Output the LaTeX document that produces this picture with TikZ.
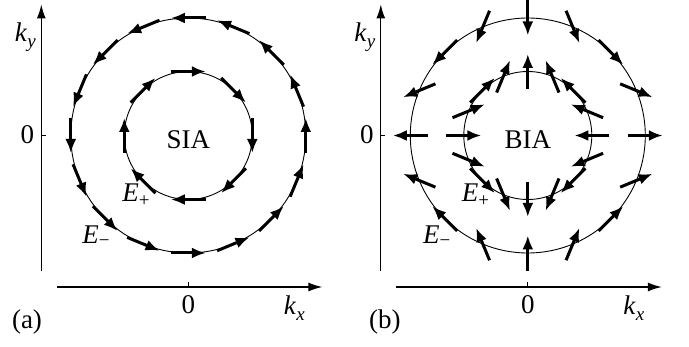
\documentclass[tikz,border=0pt]{standalone}
\usepackage{fontspec}
\setmainfont{Liberation Serif}
\usetikzlibrary{arrows.meta}
\newcommand{\withSub}[3][0.2em]{\textit{#2}\raisebox{-#1}{\fontsize{19}{20}\selectfont #3}}
\tikzset{
  spinArrow/.style={-{Latex[length=14pt,width=11pt]}, line width=3pt},
  axisArrow/.style={-{Latex[length=14pt,width=9pt]}, line width=1.3pt},
  tick/.style={line width=1.1pt},
  bandCircle/.style={line width=0.9pt},
  etiquette/.style={inner sep=0pt, font=\fontsize{27}{30}\selectfont}
}
\begin{document}
\begin{tikzpicture}[x=1pt, y=1pt]
  \useasboundingbox (0,0) rectangle (689,346);

  % --- Panneau (a) : SIA
  \begin{scope}[shift={(188.3,210.5)}]
    \draw[axisArrow] (-147,-135.5) -- (-147,131);
    \draw[axisArrow] (-131.5,-151.5) -- (134,-151.5);
    \draw[tick] (-147,0) -- (-142.5,0);
    \draw[tick] (0,-151.5) -- (0,-146.5);
    \draw[bandCircle] (0,0) circle (64);
    \draw[bandCircle] (0,0) circle (117.5);

    \foreach \t in {0,45,...,315}
      \draw[spinArrow] (\t:64) ++(\t+90:17.5) -- ++(\t-90:35);
    \foreach \t in {0,22.5,...,337.5}
      \draw[spinArrow] (\t:117.5) ++(\t-90:17.5) -- ++(\t+90:35);

    \node[etiquette] (kyA) at (-163,98.5) {\withSub{k}{\textit{y}}};
    \node[etiquette] (zeroYA) at (-161,1) {0};
    \node[etiquette] (zeroXA) at (0,-169.5) {0};
    \node[etiquette] (kxA) at (106,-172.5) {\withSub{k}{\textit{x}}};
    \node[etiquette] (labelA) at (-161.3,-187) {(a)};
    \node[etiquette] (sia) at (0,-4.5) {SIA};
    \node[etiquette] (ePlusA) at (-52.3,-59.5) {\withSub[0.18em]{E}{+}};
    \node[etiquette] (eMinusA) at (-92.3,-100.5) {\withSub[0.1em]{E}{−}};
  \end{scope}

  % --- Panneau (b) : BIA
  \begin{scope}[shift={(527.8,210.5)}]
    \draw[axisArrow] (-147,-135.5) -- (-147,131);
    \draw[axisArrow] (-131.5,-151.5) -- (134,-151.5);
    \draw[tick] (-147,0) -- (-142.5,0);
    \draw[tick] (0,-151.5) -- (0,-146.5);
    \draw[bandCircle] (0,0) circle (64);
    \draw[bandCircle] (0,0) circle (117.5);

    \foreach \t in {0,22.5,...,337.5}
      \draw[spinArrow] (\t:64) ++(-\t:17.5) -- ++(180-\t:35);
    \foreach \t in {0,22.5,...,337.5}
      \draw[spinArrow] (\t:117.5) ++(180-\t:17.5) -- ++(-\t:35);

    \node[etiquette] (kyB) at (-163,98.5) {\withSub{k}{\textit{y}}};
    \node[etiquette] (zeroYB) at (-161,1) {0};
    \node[etiquette] (zeroXB) at (0,-169.5) {0};
    \node[etiquette] (kxB) at (106,-172.5) {\withSub{k}{\textit{x}}};
    \node[etiquette] (labelB) at (-143,-187) {(b)};
    \node[etiquette] (bia) at (0,-4.5) {BIA};
    \node[etiquette] (ePlusB) at (-52.3,-59.5) {\withSub[0.18em]{E}{+}};
    \node[etiquette] (eMinusB) at (-91,-100.5) {\withSub[0.1em]{E}{−}};
  \end{scope}

\end{tikzpicture}
\end{document}
